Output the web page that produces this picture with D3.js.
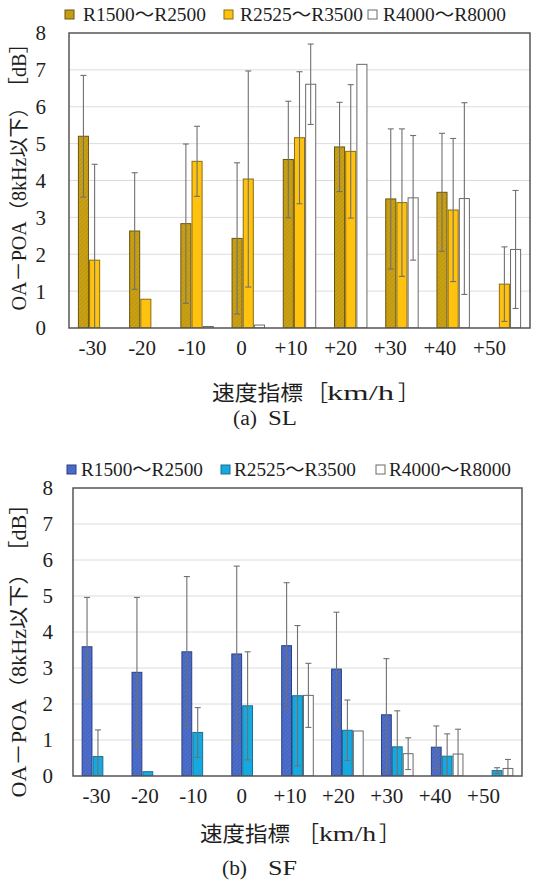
<!DOCTYPE html>
<html>
<head>
<meta charset="utf-8">
<script src="https://cdn.jsdelivr.net/npm/d3@7"></script>
<style>
  html, body { margin: 0; padding: 0; background: #fff; }
  svg { display: block; }
  .serif { font-family: "Liberation Serif", "Times New Roman", "DejaVu Serif", serif; }
  .jp { font-family: "Noto Sans CJK JP", "Noto Sans CJK SC", sans-serif; }
</style>
</head>
<body>
<svg id="fig" width="536" height="885"></svg>
<script>
// Speed index categories [km/h]
const categories = ['-30', '-20', '-10', '0', '+10', '+20', '+30', '+40', '+50'];
const seriesNames = ['R1500～R2500', 'R2525～R3500', 'R4000～R8000'];
const yTicks = [0, 1, 2, 3, 4, 5, 6, 7, 8];

// (a) SL : mean and standard deviation of OA-POA [dB]
const slMean1 = [5.20, 2.63, 2.83, 2.43, 4.57, 4.91, 3.50, 3.68, 0];
const slErr1  = [1.65, 1.58, 2.16, 2.05, 1.58, 1.21, 1.90, 1.60, 0];
const slMean2 = [1.84, 0.78, 4.52, 4.04, 5.16, 4.79, 3.40, 3.20, 1.19];
const slErr2  = [2.60, 0, 0.95, 2.93, 1.79, 1.81, 2.00, 1.94, 1.01];
const slMean3 = [0, 0, 0.04, 0.08, 6.61, 7.15, 3.53, 3.51, 2.13];
const slErr3  = [0, 0, 0, 0, 1.09, 0, 1.69, 2.60, 1.60];

// (b) SF
const sfMean1 = [3.59, 2.88, 3.45, 3.39, 3.62, 2.97, 1.70, 0.80, 0];
const sfErr1  = [1.37, 2.08, 2.09, 2.44, 1.75, 1.58, 1.56, 0.59, 0];
const sfMean2 = [0.54, 0.12, 1.21, 1.95, 2.23, 1.27, 0.81, 0.55, 0.15];
const sfErr2  = [0.74, 0, 0.69, 1.50, 1.95, 0.84, 1.00, 0.62, 0.08];
const sfMean3 = [0, 0, 0, 0, 2.24, 1.25, 0.62, 0.61, 0.21];
const sfErr3  = [0, 0, 0, 0, 0.89, 0, 0.44, 0.69, 0.25];

const TEXT = '#1e1e1e';

const svg = d3.select('#fig');
const defs = svg.append('defs');

function hatch(id, base, line) {
  const p = defs.append('pattern')
    .attr('id', id).attr('patternUnits', 'userSpaceOnUse')
    .attr('width', 3).attr('height', 3)
    .attr('patternTransform', 'rotate(45)');
  p.append('rect').attr('width', 3).attr('height', 3).attr('fill', base);
  p.append('line').attr('x1', 0).attr('y1', 0).attr('x2', 0).attr('y2', 3)
    .attr('stroke', line).attr('stroke-width', 1);
}
hatch('hatchGold', '#C39A0E', '#D4AE2C');
hatch('hatchBlue', '#4667C4', '#5A7BD4');

// squeeze/stretch a text element to a given width
function fit(sel, width) {
  sel.attr('textLength', width).attr('lengthAdjust', 'spacingAndGlyphs');
}

function drawPanel(cfg) {
  const { left, right, top, bottom } = cfg.frame;
  const g = svg.append('g');

  const y = d3.scaleLinear().domain([0, 8]).range([bottom, top]);
  const x0 = d3.scaleBand().domain(categories).range([left, right]).padding(0);
  const x1 = d3.scaleBand().domain([0, 1, 2]).range([0, x0.bandwidth()])
    .paddingInner(0.1).paddingOuter(0.84);

  // horizontal gridlines
  g.append('g').selectAll('line')
    .data(yTicks.filter(t => t > 0 && t < 8))
    .join('line')
    .attr('x1', left).attr('x2', right)
    .attr('y1', d => y(d)).attr('y2', d => y(d))
    .attr('stroke', '#dcdcdc').attr('stroke-width', 1);

  const clipId = 'clip' + cfg.id;
  defs.append('clipPath').attr('id', clipId)
    .append('rect').attr('x', left).attr('y', top)
    .attr('width', right - left).attr('height', bottom - top);

  const rows = [];
  cfg.means.forEach((arr, s) => {
    arr.forEach((v, i) => rows.push({ s, cat: categories[i], v, e: cfg.errs[s][i] }));
  });

  const plot = g.append('g').attr('clip-path', `url(#${clipId})`);

  plot.selectAll('rect.bar')
    .data(rows.filter(d => d.v > 0))
    .join('rect')
    .attr('class', 'bar')
    .attr('x', d => x0(d.cat) + x1(d.s))
    .attr('width', x1.bandwidth())
    .attr('y', d => y(d.v))
    .attr('height', d => y(0) - y(d.v))
    .attr('fill', d => cfg.fills[d.s])
    .attr('stroke', d => cfg.strokes[d.s])
    .attr('stroke-width', 1);

  // error bars (mean ± standard deviation)
  const eb = plot.selectAll('g.err')
    .data(rows.filter(d => d.e > 0))
    .join('g').attr('class', 'err')
    .attr('stroke', '#707070').attr('stroke-width', 1.1);
  const cx = d => x0(d.cat) + x1(d.s) + x1.bandwidth() / 2;
  eb.append('line')
    .attr('x1', cx).attr('x2', cx)
    .attr('y1', d => y(d.v + d.e)).attr('y2', d => y(Math.max(0, d.v - d.e)));
  eb.append('line')
    .attr('x1', d => cx(d) - 3).attr('x2', d => cx(d) + 3)
    .attr('y1', d => y(d.v + d.e)).attr('y2', d => y(d.v + d.e));
  eb.filter(d => d.v - d.e > 0).append('line')
    .attr('x1', d => cx(d) - 3).attr('x2', d => cx(d) + 3)
    .attr('y1', d => y(d.v - d.e)).attr('y2', d => y(d.v - d.e));

  // plot frame
  g.append('rect')
    .attr('x', left).attr('y', top)
    .attr('width', right - left).attr('height', bottom - top)
    .attr('fill', 'none').attr('stroke', '#555').attr('stroke-width', 1.5);

  // y axis labels
  const yAxis = d3.axisLeft(y).tickValues(yTicks).tickSize(0).tickPadding(cfg.yPad);
  const ya = g.append('g').attr('transform', `translate(${left},0)`).call(yAxis)
    .attr('font-family', null).attr('font-size', null);
  ya.select('.domain').remove();
  ya.selectAll('text').attr('class', 'serif').style('font-size', '21px')
    .attr('fill', TEXT).attr('dy', '0.33em');

  // x axis labels
  const xl = d3.scalePoint().domain(categories).range(cfg.labelRange);
  const xAxis = d3.axisBottom(xl).tickSize(0).tickPadding(0);
  const xa = g.append('g').attr('transform', `translate(0,${cfg.labelY})`).call(xAxis)
    .attr('font-family', null).attr('font-size', null);
  xa.select('.domain').remove();
  xa.selectAll('text').attr('class', 'serif').style('font-size', '21px')
    .attr('fill', TEXT).attr('y', 0).attr('dy', 0);

  // x axis title
  const [tx, ty] = cfg.xTitle;
  const xt = g.append('g').attr('fill', TEXT);
  fit(xt.append('text').attr('class', 'jp').style('font-size', '21px')
    .attr('x', tx.jp[0]).attr('y', ty).text('速度指標'), tx.jp[1] - tx.jp[0]);
  xt.append('text').attr('class', 'jp').style('font-size', '21px')
    .attr('x', tx.lb).attr('y', ty).text('［');
  fit(xt.append('text').attr('class', 'serif').style('font-size', '22px')
    .attr('x', tx.unit[0]).attr('y', ty).text('km/h'), tx.unit[1] - tx.unit[0]);
  xt.append('text').attr('class', 'jp').style('font-size', '21px')
    .attr('x', tx.rb).attr('y', ty).text('］');

  // caption
  const cap = g.append('g').attr('fill', TEXT);
  cfg.caption.forEach(c => {
    fit(cap.append('text').attr('class', 'serif').style('font-size', '20px')
      .attr('x', c.x[0]).attr('y', c.y).text(c.t), c.x[1] - c.x[0]);
  });

  // y axis title (rotated)
  const yt = g.append('text')
    .attr('transform', `translate(${cfg.yTitle[0]},${cfg.yTitle[1]}) rotate(-90)`)
    .attr('text-anchor', 'middle').attr('fill', TEXT).style('font-size', '20px');
  yt.append('tspan').attr('class', 'serif').text('OA');
  yt.append('tspan').attr('class', 'jp').text('－');
  yt.append('tspan').attr('class', 'serif').text('POA');
  yt.append('tspan').attr('class', 'jp').text('（');
  yt.append('tspan').attr('class', 'serif').text('8kHz');
  yt.append('tspan').attr('class', 'jp').text('以下）　［');
  yt.append('tspan').attr('class', 'serif').text('dB');
  yt.append('tspan').attr('class', 'jp').text('］');
  fit(yt, cfg.yTitle[2]);

  // legend
  const lg = g.append('g');
  seriesNames.forEach((name, s) => {
    const [sx, txx, ly] = cfg.legendPos[s];
    lg.append('rect').attr('x', sx).attr('y', ly - 5).attr('width', 9).attr('height', 9)
      .attr('fill', cfg.fills[s]).attr('stroke', cfg.strokes[s]).attr('stroke-width', 1);
    const t = lg.append('text').attr('x', txx).attr('y', ly + 6)
      .attr('fill', TEXT).style('font-size', '18px');
    const parts = name.split('～');
    t.append('tspan').attr('class', 'serif').text(parts[0]);
    t.append('tspan').attr('class', 'jp').text('～');
    t.append('tspan').attr('class', 'serif').text(parts[1]);
    fit(t, cfg.legendWidth);
  });
}

drawPanel({
  id: 'SL',
  frame: { left: 69, right: 530, top: 33, bottom: 328 },
  means: [slMean1, slMean2, slMean3],
  errs: [slErr1, slErr2, slErr3],
  fills: ['url(#hatchGold)', '#FFC20E', '#ffffff'],
  strokes: ['#6a5510', '#8a6d10', '#6a6a6a'],
  yPad: 23,
  labelRange: [92, 489],
  labelY: 355,
  xTitle: [{ jp: [212, 303], lb: 307, unit: [327, 394], rb: 398 }, 400],
  caption: [{ t: '(a)', x: [233, 257], y: 425 }, { t: 'SL', x: [268, 297], y: 425 }],
  yTitle: [26, 172, 277],
  legendPos: [[65, 83, 15], [224, 240, 15], [368, 383, 15]],
  legendWidth: 123
});

drawPanel({
  id: 'SF',
  frame: { left: 73, right: 522, top: 488, bottom: 776 },
  means: [sfMean1, sfMean2, sfMean3],
  errs: [sfErr1, sfErr2, sfErr3],
  fills: ['url(#hatchBlue)', '#16A9E1', '#ffffff'],
  strokes: ['#2c3f86', '#19708f', '#6a6a6a'],
  yPad: 20,
  labelRange: [96, 483],
  labelY: 803,
  xTitle: [{ jp: [200, 290], lb: 298, unit: [319, 376], rb: 379 }, 841],
  caption: [{ t: '(b)', x: [222, 247], y: 875 }, { t: 'SF', x: [268, 297], y: 875 }],
  yTitle: [26, 645, 305],
  legendPos: [[67, 81, 470], [221, 234, 470], [376, 389, 470]],
  legendWidth: 122
});
</script>
</body>
</html>
